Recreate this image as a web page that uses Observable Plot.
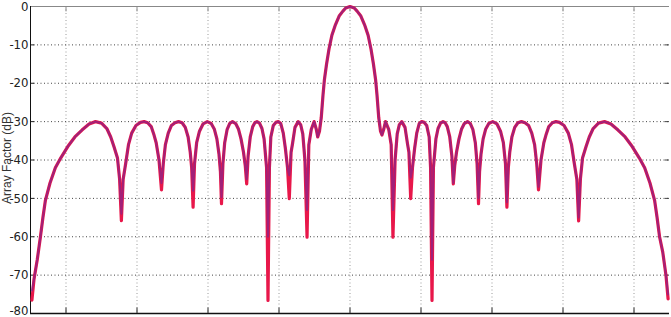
<!DOCTYPE html>
<html><head><meta charset="utf-8">
<script src="https://cdn.jsdelivr.net/npm/d3@7"></script>
<script src="https://cdn.jsdelivr.net/npm/@observablehq/plot@0.6"></script>
<style>
html,body{margin:0;padding:0;background:#fff;overflow:hidden}
#chart{width:671px;height:317px}
</style></head><body><div id="chart"></div>
<script>
// Angle (deg) samples
const theta = [
 -89.6,-89.0,-88.1,-87.2,-86.5,-85.8,-84.5,-83.0,-81.5,-79.5,-77.5,-75.5,-73.5,-71.7,-70.0,-68.5,-67.4,-66.5,-65.5,-64.9,
 -64.4,-63.9,-63.2,-62.4,-61.5,-60.3,-59.0,-58.0,-57.0,-56.0,-55.2,-54.6,-53.8,
 -53.1,-52.6,-52.0,-51.2,-50.3,-49.3,-48.3,-47.3,-46.4,-45.6,-45.0,-44.6,
 -44.2,-43.8,-43.2,-42.4,-41.4,-40.2,-39.1,-38.2,-37.5,-36.9,-36.5,
 -36.2,-35.8,-35.3,-34.6,-33.9,-33.1,-32.2,-31.4,-30.7,-30.0,-29.5,
 -29.1,-28.7,-28.1,-27.4,-26.8,-26.2,-25.5,-24.8,-24.2,-23.5,
 -23.1,-22.7,-22.3,-21.6,-20.9,-20.2,-19.5,-18.8,-18.2,-17.6,
 -17.1,-16.6,-16.2,-15.5,-14.6,-13.9,-13.3,-12.7,
 -12.1,-11.6,-10.9,-10.1,-9.5,-9.1,-8.6,-8.1,-7.6,-7.2,-6.6,-5.9,-5.1,-4.2,-3.0,-2.0,-1.2,
 0,
 1.2,2.0,3.0,4.2,5.1,5.9,6.6,7.2,7.6,8.1,8.6,9.0,9.5,10.0,10.9,11.6,
 12.1,12.7,13.3,13.9,14.6,15.5,16.2,16.6,
 17.1,17.6,18.2,18.8,19.5,20.2,20.9,21.6,22.3,22.7,
 23.1,23.5,24.2,24.8,25.5,26.2,26.8,27.4,28.1,28.7,
 29.1,29.5,30.0,30.7,31.4,32.2,33.1,33.9,34.6,35.3,35.8,
 36.2,36.5,36.9,37.5,38.2,39.1,40.2,41.4,42.4,43.2,43.8,
 44.2,44.6,45.0,45.6,46.4,47.3,48.3,49.3,50.3,51.2,52.0,52.6,
 53.1,53.8,54.6,55.2,56.0,57.0,58.0,59.0,60.3,61.5,62.4,63.2,63.9,
 64.4,64.9,65.5,66.5,67.4,68.5,70.0,71.7,73.5,75.5,77.5,79.5,81.5,83.0,84.5,85.8,86.5,87.2,88.1,89.0,89.6
];
// Red trace (dB)
const afRed = [
 -76.5,-71,-66,-60,-55,-50.5,-46,-42,-39.5,-36.5,-34,-32.2,-30.6,-30,-30.4,-31.8,-34,-36.5,-39.5,-45,
 -55.8,-45,-41,-36,-33,-31,-30.2,-30,-30.3,-31.3,-33.5,-35.5,-40,
 -47.8,-41,-36,-33,-31,-30.3,-30,-30.3,-31.5,-34,-38,-42,
 -52.3,-41,-35.5,-32.5,-30.6,-30,-30.5,-32,-34.5,-38.5,-43,
 -51.4,-41,-35.5,-32,-30.5,-30,-30.5,-32,-34.5,-38,-41.5,
 -46.2,-39,-34,-31.3,-30.3,-30,-30.4,-31.8,-34.5,-42,
 -76.6,-42,-34,-31,-30.2,-30,-30.5,-33,-37,-42,
 -50.1,-38,-35.8,-31.5,-30,-30.8,-33.2,-40,
 -60.1,-36,-32,-30,-32,-34,-32.5,-29,-23,-19,-15,-11,-7.5,-5,-2.4,-1.2,-0.4,
 0,
 -0.4,-1.2,-2.4,-5,-7.5,-11,-15,-19,-23,-29,-32.5,-33.5,-32,-30,-32,-36,
 -60.1,-40,-33.2,-30.8,-30,-31.5,-35.8,-38,
 -50.1,-42,-37,-33,-30.5,-30,-30.2,-31,-34,-42,
 -76.6,-42,-34.5,-31.8,-30.4,-30,-30.3,-31.3,-34,-39,
 -46.2,-41.5,-38,-34.5,-32,-30.5,-30,-30.5,-32,-35.5,-41,
 -51.4,-43,-38.5,-34.5,-32,-30.5,-30,-30.6,-32.5,-35.5,-41,
 -52.3,-42,-38,-34,-31.5,-30.3,-30,-30.3,-31,-33,-36,-41,
 -47.8,-40,-35.5,-33.5,-31.3,-30.3,-30,-30.2,-31,-33,-36,-41,-45,
 -55.9,-45,-39.5,-36.5,-34,-31.8,-30.4,-30,-30.6,-32.2,-34,-36.5,-39.5,-42,-46,-50.5,-55,-60,-64,-70,-76.2
];
// Blue trace (dB) - shallower at several nulls
const afBlue = [
 -74,-71,-66,-60,-55,-50.5,-46,-42,-39.5,-36.5,-34,-32.2,-30.6,-30,-30.4,-31.8,-34,-36.5,-39.5,-45,
 -54,-45,-41,-36,-33,-31,-30.2,-30,-30.3,-31.3,-33.5,-35.5,-40,
 -46,-41,-36,-33,-31,-30.3,-30,-30.3,-31.5,-34,-38,-42,
 -48,-41,-35.5,-32.5,-30.6,-30,-30.5,-32,-34.5,-38.5,-43,
 -49.7,-41,-35.5,-32,-30.5,-30,-30.5,-32,-34.5,-38,-41.5,
 -45,-39,-34,-31.3,-30.3,-30,-30.4,-31.8,-34.5,-42,
 -60,-42,-34,-31,-30.2,-30,-30.5,-33,-37,-42,
 -44,-38,-35.8,-31.5,-30,-30.8,-33.2,-40,
 -53,-36,-32,-30,-32,-34,-32.5,-29,-23,-19,-15,-11,-7.5,-5,-2.4,-1.2,-0.4,
 0,
 -0.4,-1.2,-2.4,-5,-7.5,-11,-15,-19,-23,-29,-32.5,-33.5,-32,-30,-32,-36,
 -53,-40,-33.2,-30.8,-30,-31.5,-35.8,-38,
 -44.6,-42,-37,-33,-30.5,-30,-30.2,-31,-34,-42,
 -66,-42,-34.5,-31.8,-30.4,-30,-30.3,-31.3,-34,-39,
 -46,-41.5,-38,-34.5,-32,-30.5,-30,-30.5,-32,-35.5,-41,
 -50,-43,-38.5,-34.5,-32,-30.5,-30,-30.6,-32.5,-35.5,-41,
 -51,-42,-38,-34,-31.5,-30.3,-30,-30.3,-31,-33,-36,-41,
 -47,-40,-35.5,-33.5,-31.3,-30.3,-30,-30.2,-31,-33,-36,-41,-45,
 -55,-45,-39.5,-36.5,-34,-31.8,-30.4,-30,-30.6,-32.2,-34,-36.5,-39.5,-42,-46,-50.5,-55,-60,-64,-70,-75
];
const yTicks = [0,-10,-20,-30,-40,-50,-60,-70,-80];
const xTicks = [-80,-60,-40,-20,0,20,40,60,80];
const yLabel = "Array Factor (dB)";

const rows = theta.map((t, i) => ({theta: t, red: afRed[i], blue: afBlue[i]}));
const yGrid = yTicks.filter(d => d !== 0 && d !== -80);
const yTickMain = yTicks.filter(d => d !== -80);
const yTickBottom = yTicks.filter(d => d === -80);
const tickFont = '"Liberation Sans Narrow","DejaVu Sans Condensed","Liberation Sans",sans-serif';

const plot = Plot.plot({
  width: 671, height: 317,
  marginLeft: 30, marginRight: 2, marginTop: 6, marginBottom: 4,
  style: {fontFamily: tickFont, fontSize: "13px", color: "#222", background: "#fff"},
  x: {domain: [-90, 90], axis: null},
  y: {domain: [-80, 0], axis: null},
  marks: [
    Plot.ruleX(xTicks, {stroke: "#9a9a9a", strokeDasharray: "1,2.5"}),
    Plot.ruleY(yGrid, {stroke: "#444", strokeDasharray: "1,2.5"}),
    Plot.ruleX(xTicks, {y1: -80, y2: -78.6, stroke: "#222"}),
    Plot.ruleX(xTicks, {y1: 0, y2: -1.4, stroke: "#888"}),
    Plot.ruleY(yTicks, {x1: -90, x2: -88.8, stroke: "#222"}),
    Plot.ruleY(yTicks, {x1: 90, x2: 88.8, stroke: "#444"}),
    Plot.ruleY([0], {stroke: "#888"}),
    Plot.ruleY([-80], {stroke: "#111", strokeWidth: 1.3}),
    Plot.ruleX([-90], {stroke: "#111"}),
    Plot.text(yTickMain, {x: -90, y: d => d, text: d => String(d), textAnchor: "end", dx: -2, fill: "#222"}),
    Plot.text(yTickBottom, {x: -90, y: d => d, text: d => String(d), textAnchor: "end", dx: -2, dy: -3, fill: "#222"}),
    Plot.line(rows, {x: "theta", y: "red", stroke: "#e8174a", strokeWidth: 3.2}),
    Plot.line(rows, {x: "theta", y: "blue", stroke: "#5a2aa8", strokeWidth: 2, strokeOpacity: 0.5})
  ]
});

d3.select(plot).append("text")
  .attr("transform", "translate(10.5,158) rotate(-90)")
  .attr("text-anchor", "middle")
  .attr("font-family", '"Liberation Sans",Arial,sans-serif')
  .attr("font-size", 12)
  .attr("fill", "#333")
  .text(yLabel);

document.getElementById("chart").appendChild(plot);
</script>
</body></html>
